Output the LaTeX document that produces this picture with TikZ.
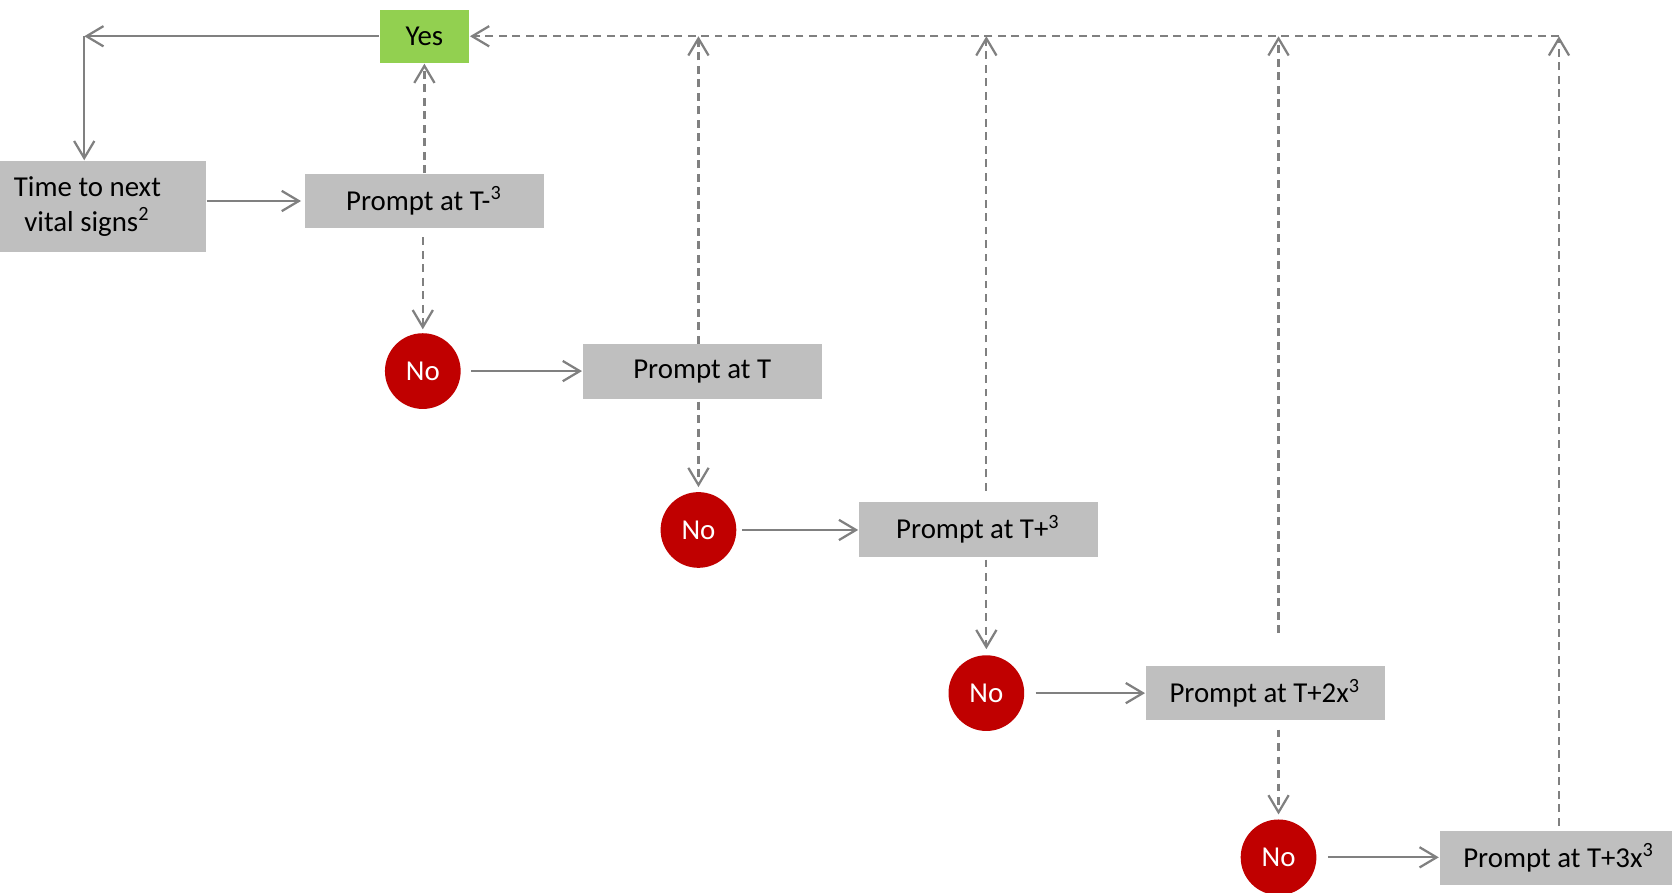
\documentclass[tikz,border=0pt]{standalone}
\usepackage{fontspec}
\setmainfont{Carlito}
\usetikzlibrary{arrows.meta}
\definecolor{boxgray}{RGB}{191,191,191}
\definecolor{yesgreen}{RGB}{146,208,80}
\definecolor{nored}{RGB}{192,0,0}
\definecolor{linegray}{RGB}{128,128,128}

\begin{document}
\begin{tikzpicture}[every node/.style={font=\fontsize{7.7}{9.4}\selectfont},
  prompt/.style={rectangle, fill=boxgray, minimum width=2.24cm,
                 minimum height=0.51cm, inner sep=1pt},
  answer/.style={circle, fill=nored, text=white, minimum size=0.71cm,
                 inner sep=0pt},
  flow/.style={-{Straight Barb[length=1.6mm,width=1.9mm]}, linegray,
               line width=0.6pt},
  dflow/.style={flow, dash pattern=on 2.1pt off 1.5pt}]
  \useasboundingbox (0,0) rectangle (15.68,-8.37);

  % Start and answer boxes
  \node[rectangle, fill=yesgreen, minimum width=0.84cm, minimum height=0.50cm]
    (yes) at (3.98,-0.34) {Yes};
  \node[rectangle, fill=boxgray, minimum width=1.93cm, minimum height=0.85cm,
        align=center] (time) at (0.965,-1.935)
    {Time to next\hspace*{0.29cm}\\vital signs\textsuperscript{2}\hspace*{0.29cm}};
  \coordinate (turn) at (0.79,-0.34);

  % Prompts and missed answers, stepping down to the right
  \node[prompt] (pm3) at (3.98,-1.885) {Prompt at T-\textsuperscript{3}};
  \node[answer] (no1) at (3.965,-3.48) {No};
  \node[prompt] (pt) at (6.585,-3.485) {Prompt at T};
  \node[answer] (no2) at (6.55,-4.97) {No};
  \node[prompt] (ptp) at (9.175,-4.965) {Prompt at T+\textsuperscript{3}};
  \node[answer] (no3) at (9.25,-6.50) {No};
  \node[prompt] (p2x) at (11.865,-6.50) {Prompt at T+2x\textsuperscript{3}};
  \node[answer] (no4) at (11.99,-8.04) {No};
  \node[prompt] (p3x) at (14.62,-8.045) {Prompt at T+3x\textsuperscript{3}};
  \coordinate (top) at (p3x.north |- yes.center);

  % Yes loops back to the timer
  \draw[flow] (yes.west) -- (turn);
  \draw[flow] (turn) -- (turn |- time.north);
  \draw[flow, shorten >=0.03cm] (time.east |- pm3.west) -- (pm3.west);

  % Solid: no answer leads to the next prompt
  \draw[flow, shorten <=0.09cm] (no1.east) -- (no1 -| pt.west);
  \draw[flow, shorten <=0.05cm] (no2.east) -- (no2 -| ptp.west);
  \draw[flow, shorten <=0.10cm] (no3.east) -- (no3 -| p2x.west);
  \draw[flow, shorten <=0.10cm] (no4.east) -- (no4 -| p3x.west);

  % Dashed: prompt outcomes
  \draw[dflow] (pm3.north) -- (yes.south);
  \draw[dflow, shorten <=0.08cm, shorten >=0.03cm] (no1 |- pm3.south) -- (no1.north);
  \draw[dflow, shorten <=0.02cm, shorten >=0.04cm] (no2 |- pt.south) -- (no2.north);
  \draw[dflow, shorten <=0.02cm, shorten >=0.05cm] (no3 |- ptp.south) -- (no3.north);
  \draw[dflow, shorten <=0.08cm, shorten >=0.04cm] (no4 |- p2x.south) -- (no4.north);

  \draw[dflow] (no2 |- pt.north) -- (no2 |- yes.center);
  \draw[dflow, shorten <=0.10cm] (no3 |- ptp.north) -- (no3 |- yes.center);
  \draw[dflow, shorten <=0.30cm] (no4 |- p2x.north) -- (no4 |- yes.center);
  \draw[dflow, shorten <=0.04cm] (p3x.north) -- (top);
  \draw[dflow] (top) -- (yes.east);
\end{tikzpicture}
\end{document}
